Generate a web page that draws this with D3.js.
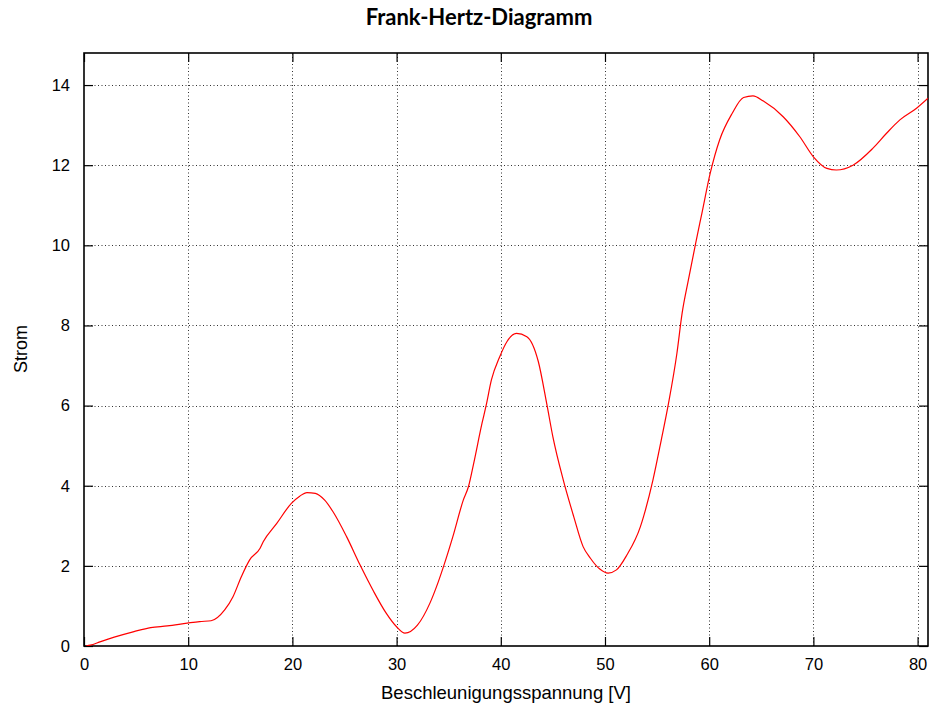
<!DOCTYPE html>
<html><head><meta charset="utf-8">
<script src="https://cdn.jsdelivr.net/npm/d3@7"></script>
<style>
body{margin:0;background:#fff;}
svg{display:block;}
.tick text{font-family:"Liberation Sans",Arial,sans-serif;font-size:16.5px;fill:#000;}
</style></head>
<body>
<svg id="chart" width="936" height="708"></svg>
<script>
const voltage = [0.2,0.6,1.6,2.9,4.8,6.4,8.0,9.9,11.1,12.2,13.5,14.3,15.1,15.9,16.9,17.2,18.5,19.9,20.7,21.4,22.2,23.1,23.9,25.2,26.5,27.8,29.0,30.0,30.8,32.0,33.2,34.0,34.5,35.4,36.4,36.9,37.4,38.2,38.6,39.1,39.9,40.6,41.5,42.5,43.6,44.4,45.0,46.0,47.0,47.9,48.6,49.5,50.3,51.1,52.1,53.4,53.7,54.6,55.4,56.1,56.9,57.4,58.0,58.7,59.3,60.1,61.0,62.2,63.3,64.2,65.2,67.1,68.7,70.0,71.3,72.2,73.8,75.7,77.0,78.3,79.9,81.0];
const current = [0.0,0.02,0.11,0.22,0.36,0.46,0.50,0.57,0.61,0.63,0.90,1.23,1.73,2.15,2.44,2.60,3.06,3.56,3.74,3.83,3.81,3.64,3.35,2.73,2.02,1.36,0.82,0.48,0.32,0.52,1.07,1.60,1.98,2.73,3.64,3.98,4.56,5.56,6.01,6.64,7.22,7.60,7.80,7.72,7.10,6.06,5.22,4.14,3.23,2.48,2.19,1.92,1.82,1.90,2.27,2.98,3.23,4.14,5.14,6.06,7.30,8.30,9.13,10.05,10.8,11.8,12.63,13.29,13.69,13.73,13.6,13.21,12.71,12.21,11.92,11.88,12.0,12.42,12.79,13.13,13.42,13.67];
const xTicks = [0,10,20,30,40,50,60,70,80];
const yTicks = [0,2,4,6,8,10,12,14];
const title = "Frank-Hertz-Diagramm";
const xLabel = "Beschleunigungsspannung [V]";
const yLabel = "Strom";

const svg = d3.select("#chart");
const L=84, T=53, R=928, B=646;
const x = d3.scaleLinear().domain([0,81]).range([L,R]);
const y = d3.scaleLinear().domain([0,14.8]).range([B,T]);

// grid
const grid = svg.append("g").attr("stroke","#333").attr("stroke-width",1).attr("stroke-dasharray","1,2.5");
grid.selectAll(".gx").data(xTicks.filter(d=>d>0)).enter().append("line")
  .attr("x1",d=>Math.round(x(d))+0.5).attr("x2",d=>Math.round(x(d))+0.5).attr("y1",B).attr("y2",T);
grid.selectAll(".gy").data(yTicks.filter(d=>d>0)).enter().append("line")
  .attr("y1",d=>Math.round(y(d))+0.5).attr("y2",d=>Math.round(y(d))+0.5).attr("x1",L).attr("x2",R);

// axes
const tl = 9;
const xAxis = svg.append("g").attr("transform",`translate(0,${B})`)
  .call(d3.axisBottom(x).tickValues(xTicks).tickSize(-tl).tickPadding(12).tickFormat(d3.format("d")));
const xTop = svg.append("g").attr("transform",`translate(0,${T})`)
  .call(d3.axisTop(x).tickValues(xTicks).tickSize(-tl).tickFormat(""));
const yAxis = svg.append("g").attr("transform",`translate(${L},0)`)
  .call(d3.axisLeft(y).tickValues(yTicks).tickSize(-tl).tickPadding(14).tickFormat(d3.format("d")));
const yRight = svg.append("g").attr("transform",`translate(${R},0)`)
  .call(d3.axisRight(y).tickValues(yTicks).tickSize(-tl).tickFormat(""));
[xAxis,xTop,yAxis,yRight].forEach(g=>{
  g.select(".domain").remove();
  g.selectAll(".tick line").attr("stroke","#000").attr("stroke-width",1.2);
});

// frame
svg.append("rect").attr("x",L).attr("y",T).attr("width",R-L).attr("height",B-T)
  .attr("fill","none").attr("stroke","#000").attr("stroke-width",1.6);

// clip
svg.append("clipPath").attr("id","clip").append("rect").attr("x",L).attr("y",T).attr("width",R-L).attr("height",B-T);

const pts = voltage.map((v,i)=>[v,current[i]]);
const line = d3.line().x(d=>x(d[0])).y(d=>y(d[1])).curve(d3.curveMonotoneX);
svg.append("path").attr("clip-path","url(#clip)").attr("d",line(pts))
  .attr("fill","none").attr("stroke","#ff0000").attr("stroke-width",1.2);

// texts
svg.append("text").attr("x",479).attr("y",25).attr("text-anchor","middle")
  .attr("font-family","Lato, 'Open Sans', sans-serif").attr("font-weight","bold").attr("font-size",22)
  .text(title);
svg.append("text").attr("x",506).attr("y",699).attr("text-anchor","middle")
  .attr("font-family","'Liberation Sans', Arial, sans-serif").attr("font-size",18.5).text(xLabel);
svg.append("text").attr("transform",`translate(27,349) rotate(-90)`).attr("text-anchor","middle")
  .attr("font-family","'Liberation Sans', Arial, sans-serif").attr("font-size",18).text(yLabel);
</script>
</body></html>
